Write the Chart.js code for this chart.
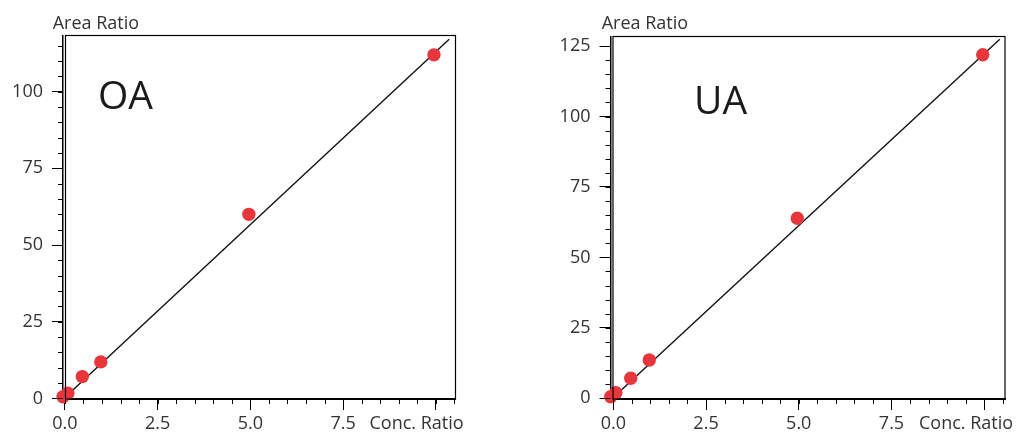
<!DOCTYPE html>
<html>
<head>
<meta charset="utf-8">
<script src="https://cdn.jsdelivr.net/npm/chart.js@4.4.1/dist/chart.umd.min.js"></script>
<style>
  body { margin: 0; background: #fff; width: 1019px; height: 433px; overflow: hidden; position: relative; }
  canvas { position: absolute; top: 0; }
  #oa { left: 0; }
  #ua { left: 540px; }
</style>
</head>
<body>
<canvas id="oa" width="500" height="433"></canvas>
<canvas id="ua" width="479" height="433"></canvas>
<script>
// calibration points
const oaConc = [-0.05, 0.08, 0.47, 0.97, 4.96, 9.95];
const oaArea = [0.55, 1.7, 7.1, 11.9, 60.0, 112.0];
const uaConc = [-0.07, 0.07, 0.47, 0.97, 4.96, 9.96];
const uaArea = [0.57, 2.0, 7.1, 13.6, 63.9, 121.9];

// fitted lines (end points)
const oaFitConc = [0, 10.36];
const oaFitArea = [0.3, 117.1];
const uaFitConc = [0, 10.42];
const uaFitArea = [0.3, 127.4];

const xTicks = [0, 2.5, 5, 7.5];
const xTickLabels = ['0.0', '2.5', '5.0', '7.5'];

const FONT = '"Open Sans", "DejaVu Sans", sans-serif';
const TEXT = '#333';

function toPoints(xs, ys) {
  return xs.map((x, i) => ({ x: x, y: ys[i] }));
}

// small ticks between the labelled ones + the frame round the plot
const framePlugin = {
  id: 'frame',
  afterDraw(chart, args, opts) {
    const ctx = chart.ctx;
    const a = chart.chartArea;
    const xs = chart.scales.x, ys = chart.scales.y;
    ctx.save();
    ctx.strokeStyle = '#000';
    ctx.lineWidth = 1;
    ctx.beginPath();
    for (let v = Math.ceil(xs.min / opts.xMinor) * opts.xMinor; v <= xs.max; v += opts.xMinor) {
      const px = Math.round(xs.getPixelForValue(v)) + 0.5;
      ctx.moveTo(px, a.bottom);
      ctx.lineTo(px, a.bottom + 5);
    }
    for (let v = Math.ceil(ys.min / opts.yMinor) * opts.yMinor; v <= ys.max; v += opts.yMinor) {
      const py = Math.round(ys.getPixelForValue(v)) + 0.5;
      ctx.moveTo(a.left, py);
      ctx.lineTo(a.left - 5, py);
    }
    ctx.stroke();
    ctx.lineWidth = 1.2;
    ctx.strokeRect(a.left + 2.5, a.top, a.right - a.left - 2.5, a.bottom - a.top);
    ctx.restore();
  }
};

const textPlugin = {
  id: 'texts',
  afterDraw(chart, args, opts) {
    const ctx = chart.ctx;
    const a = chart.chartArea;
    ctx.save();
    ctx.textBaseline = 'alphabetic';
    ctx.textAlign = 'left';
    ctx.fillStyle = TEXT;
    ctx.font = '18px ' + FONT;
    ctx.fillText('Area Ratio', a.left + opts.areaDx, 28.5);
    ctx.fillText('Conc. Ratio', a.right - 86, 429);
    ctx.fillStyle = '#1a1a1a';
    ctx.font = '39px ' + FONT;
    ctx.fillText(opts.name, a.left + opts.nameDx, a.top + opts.nameDy);
    ctx.restore();
  }
};

function makeChart(id, conc, area, fitConc, fitArea, s) {
  return new Chart(document.getElementById(id), {
    type: 'scatter',
    data: {
      datasets: [
        {
          data: toPoints(conc, area),
          backgroundColor: '#e8363d',
          borderWidth: 0,
          pointRadius: 6.7,
          pointHoverRadius: 6.7,
          clip: false,
        },
        {
          type: 'line',
          data: toPoints(fitConc, fitArea),
          borderColor: '#111',
          borderWidth: 1.4,
          pointRadius: 0,
          fill: false,
        },
      ],
    },
    options: {
      responsive: false,
      animation: false,
      events: [],
      layout: { padding: { top: s.top, right: s.right, left: 0, bottom: 0 } },
      scales: {
        x: {
          type: 'linear',
          min: s.xMin,
          max: s.xMax,
          afterFit: (sc) => { sc.height = 34; },
          afterBuildTicks: (sc) => { sc.ticks = xTicks.concat([10]).map(v => ({ value: v })); },
          border: { color: '#000', width: 2 },
          grid: { drawOnChartArea: false, tickLength: 11, tickColor: '#000', tickWidth: 1 },
          ticks: {
            padding: 3,
            maxRotation: 0,
            autoSkip: false,
            color: TEXT,
            font: { family: FONT, size: 18 },
            callback: (v) => { const i = xTicks.indexOf(v); return i < 0 ? '' : xTickLabels[i]; },
          },
        },
        y: {
          type: 'linear',
          min: s.yMin,
          max: s.yMax,
          afterFit: (sc) => { sc.width = s.left; },
          afterBuildTicks: (sc) => { sc.ticks = s.yTicks.map(v => ({ value: v })); },
          border: { color: '#000', width: 1.5 },
          grid: { drawOnChartArea: false, tickLength: 11, tickColor: '#000', tickWidth: 1 },
          ticks: {
            padding: 9,
            autoSkip: false,
            color: TEXT,
            font: { family: FONT, size: 18 },
            callback: (v) => String(v),
          },
        },
      },
      plugins: {
        legend: { display: false },
        tooltip: { enabled: false },
        frame: { xMinor: 0.5, yMinor: 5 },
        texts: { name: s.name, areaDx: s.areaDx, nameDx: s.nameDx, nameDy: s.nameDy },
      },
    },
    plugins: [framePlugin, textPlugin],
  });
}

makeChart('oa', oaConc, oaArea, oaFitConc, oaFitArea, {
  top: 35.5, right: 44.5, left: 63,
  xMin: -0.05, xMax: 10.53, yMin: -0.2, yMax: 118.3,
  yTicks: [0, 25, 50, 75, 100],
  name: 'OA', areaDx: -10.3, nameDx: 35, nameDy: 73.5,
});

makeChart('ua', uaConc, uaArea, uaFitConc, uaFitArea, {
  top: 36.5, right: 14, left: 70.5,
  xMin: -0.075, xMax: 10.56, yMin: -0.25, yMax: 128.4,
  yTicks: [0, 25, 50, 75, 100, 125],
  name: 'UA', areaDx: -8.8, nameDx: 83.5, nameDy: 77.5,
});
</script>
</body>
</html>
